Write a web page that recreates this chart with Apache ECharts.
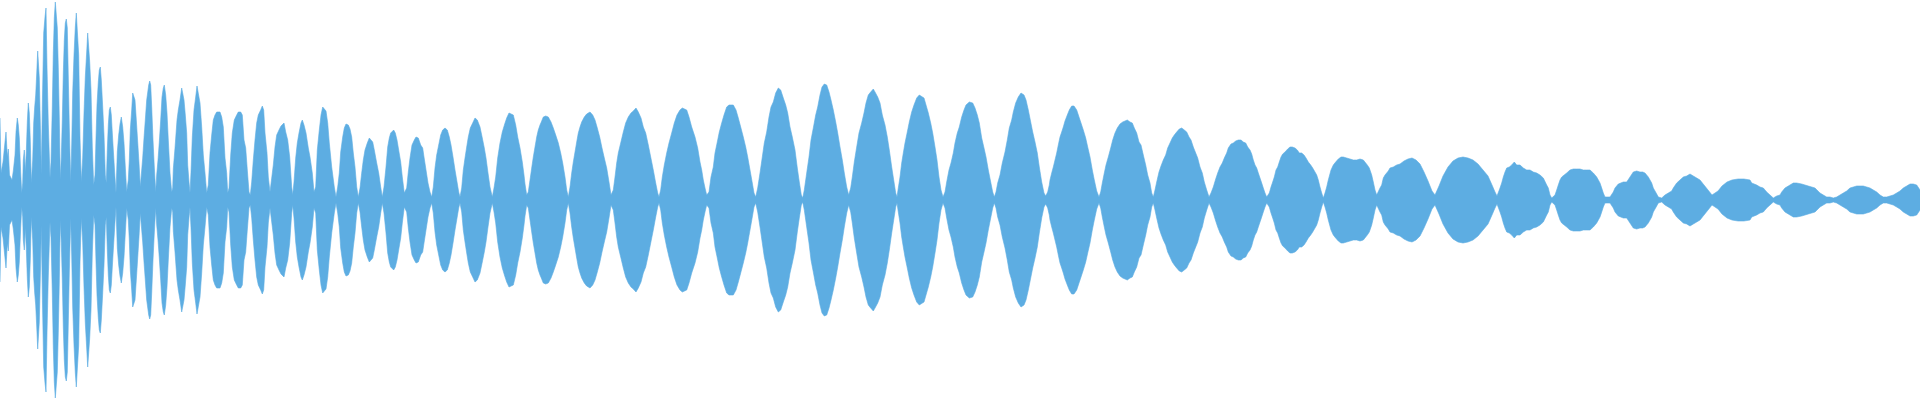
<!DOCTYPE html>
<html>
<head>
<meta charset="utf-8">
<style>html,body{margin:0;padding:0;background:#fff;}#c{width:1920px;height:400px;}</style>
<script src="https://cdn.jsdelivr.net/npm/echarts@6/dist/echarts.min.js"></script>
</head>
<body>
<div id="c"></div>
<script>
// Waveform envelope: [time, amplitude] pairs (amplitude, symmetric about 0)
var attack = [[0,82],[1,27],[3,38],[6,68],[7.3,43],[8.3,51],[9.5,25],[12,20],[13.3,29],[15,45],[16,68],[17.3,82],[18.3,75],[19.3,62],[20.7,27],[21.7,7],[22.7,17],[23.3,40],[24.3,50],[25.3,28],[26.3,48],[27.3,78],[28.3,97],[29.3,87],[30.3,59],[31.3,17],
[32.7,40],[33.7,77],[34.7,93],[35.7,105],[36.7,126],[37.7,149],[39.3,122],[40.7,60],[41.3,25],
[42.3,93],[43.7,167],[45,183],[46,192],[47,133],[48.3,76],[50,22],
[51,38],[52.3,93],[53.3,147],[54.3,182],[55.3,198],[56.3,196],[57.3,172],[58.3,132],[59.3,82],[60.3,20],
[61.3,43],[62.3,80],[63.3,127],[64.3,160],[65.3,177],[66.3,181],[67.3,172],[68.3,123],[69.3,73],[70.7,18],
[71.7,55],[72.7,107],[74,145],[75.3,173],[76.3,187],[77.7,187],[78.7,145],[80,62],[81.3,18],
[82.7,42],[84,87],[85.3,123],[86.7,148],[87.7,167],[88.7,165],[89.7,138],[91,110],[92.3,53],[93.7,15],
[95,25],[96,62],[97,95],[98.3,118],[99.3,130],[100.3,133],[101.3,120],[102.7,93],[104,65],[105.3,25],[106.3,17],
[107.3,50],[108.3,75],[109.3,90],[110.3,93],[111.3,85],[112.3,67],[113.3,50],[114.7,27],[116,7],
[117.3,48],[118.7,65],[120,76],[121.3,83],[122.7,73],[124,57],[125.3,33],[126.7,8],
[128.3,20],[129.3,40],[130.3,70],[131.7,90],[132.7,107],[133.7,105],[135,100],[136.3,80],[137.7,58],[139,37],[140.3,13],
[141.7,15],[142.7,42],[144,62],[145.3,80],[146.7,100],[148.7,115],[149.7,119],[150.7,115],[151.7,93],[153,60],[154.3,33],[155.7,8],
[156.7,25],[158,40],[159.3,58],[160.7,80],[162,103],[163.3,112],[164.3,115],[165.7,105],[167,87],[168.3,60],[170,27],[171.7,8],
[172.7,12],[173.3,31]];

var early = [[175,52],[177,80],[178.3,90],[180,100],[181.7,112],[182.7,113],[184,100],[185.3,85],[186.7,67],[187.7,35],[189,18],[190,7],
[191,28],[192.3,63],[194,90],[195.7,103],[197,114],[198.3,114],[200,97],[201.7,73],[203.3,45],[205,27],[206.7,7],
[208.3,15],[210,47],[211.7,65],[213.3,80],[215,85],[216.7,88],[218.3,87],[220,88],[221.7,83],[223.3,73],[225,42],[226.7,27],[227.7,7],
[229,12],[230.7,45],[232.3,67],[234.3,80],[236.7,85],[238.3,88],[240.7,88],[242.3,85],[244,60],[245.7,52],[247.3,30],[249,8],[250.3,5],
[251.7,18],[253.3,40],[255,60],[256.7,77],[258.3,85],[260.7,90],[262.3,94],[263.7,90],[265,67],[267,47],[268.3,23],[270,8],
[271.7,10],[273.3,35],[275,53],[276.7,65],[279,70],[281,74],[284,77],[285.7,68],[287.7,60],[289.7,43],[291.7,13],[292.7,5],
[294,18],[295.7,42],[297.3,57],[299,67],[301,77],[302.3,80],[304,75],[306,67],[308.3,52],[310,43],[312.3,27],[314,8],
[315.7,13],[317.3,50],[319.3,70],[321,85],[322.7,93],[324.3,95],[326,89],[327.7,77],[329.3,57],[331.7,33],[334.3,13],[336,3],
[337.7,13],[339.3,27],[340.7,48],[342.7,63],[344.3,72],[346,76],[348.3,75],[350,71],
[351.7,63],[353.3,47],[355,33],[356.7,13],[358.3,3],
[360,12],[361.7,27],[363.3,40],[365,50],[367.3,57],[369.3,62],[370.7,63],[372.7,58],[374.3,50],[376.7,37],[378.7,27],[380.7,13],[382.3,3],
[384,13],[386,33],[387.7,53],[389.3,62],[390.7,67],[392.7,68],[393.7,70],[395.3,67],[397,60],[399,48],[400.7,38],[402.3,23],[404.3,7],[405.7,5],
[406.7,12],[408.3,28],[410,42],[412,55],[414.3,60],[416,63],[418.3,62],[420.7,55],[422.7,52],[424,43],[426,30],[428,17],[430,8],[431.7,3],
[433.3,13],[435,32],[436.7,45],[438.7,55],[440.7,65],[442.7,70],[445,72],[447.3,70],[449.3,63],[451,55],[453,43],[455,30],[456.7,20],[458.7,8],[460,3],
[461.7,12],[463.3,30],[465,42],[466.7,53],[468.3,63],[470.3,72],[472.7,77],[475,82],[477.3,80],[480,73],[482.3,62],[484.3,52],[486,42],[488,27],[490,13],[492.3,3],
[494,12],[495.7,23],[497.7,42],[500,57],[502.3,68],[504.7,76],[506.7,82],[509,87],[510.7,88],[513.3,85],[515.7,75],[517.7,63],[520,52],[522.3,38],[524,25],[525,16],[526.7,5]];

var middle = [[528.3,8],[530,20],[531.7,32],[533.3,43],[535,53],[536.7,63],[538.3,70],[540,75],[541.7,79],[543.3,83],[545.7,84],[548.3,83],[551,78],[553.3,72],[555.7,65],[558.3,57],[560.7,47],[562.7,37],[565,23],[566.7,10],[568.3,3],
[570,13],[571.7,27],[573.3,38],[575,48],[576.7,58],[578.3,67],[580,73],[581.7,78],[584.3,83],[586.7,86],[590,88],[592.7,85],[595,80],[597.3,72],[599.7,63],[602,52],[604.3,42],[606.7,32],[609,18],[611,5],
[613.3,10],[615,23],[616.7,37],[618.3,47],[620.7,57],[623.3,68],[625.7,77],[628.3,83],[631,87],[633.3,89],[636,92],[638.3,88],[641,82],[643.3,73],[645.7,67],[648.3,55],[650.7,43],[653.3,30],[655.7,17],[657.7,7],[659,3],
[660.7,10],[662.3,23],[664.3,35],[666.7,47],[669,57],[671.7,67],[674.3,77],[677,85],[680,90],[682.3,92],[684,93],[686.7,90],[689,83],[691.7,73],[695,63],[697.7,52],[700,38],[701.7,30],[703.3,20],[705,12],[706.7,5],
[709,8],[711,23],[713.3,33],[715,47],[717.3,58],[719.3,68],[721.7,77],[724,85],[726.7,93],[729,95],[731,97],[733.3,95],[736,90],[738.3,82],[740.7,73],[743.3,63],[745.7,53],[747.7,43],[750,30],[752.3,17],[754,7],[755.7,3],
[757.7,12],[760,27],[762.3,43],[764.3,57],[766.7,68],[769,83],[771,93],[773.3,98],[775.7,107],[778.3,112],[780.7,110],[783.3,102],[785.7,95],[787.7,87],[790,73],[792.3,63],[795,50],[797.3,32],[799.3,18],[801.3,5],[802.7,2],
[804.3,10],[806.7,27],[809,43],[811,60],[813.3,72],[815.7,85],[817.7,93],[820,105],[822,113],[824.3,116],[826.7,115],[829,108],[831,100],[833.3,90],[835.7,78],[837.7,67],[840,53],[842.3,40],[844.3,27],[846.7,13],[848.7,5],
[850.7,12],[852.3,23],[854.3,38],[856.7,53],[859,67],[861.7,77],[864,87],[866,97],[868.3,105],[870.7,108],[873.3,111],[875,108],[877.7,103],[880,97],[882.3,85],[885,75],[887.3,63],[889.3,50],[891.7,33],[893.7,20],[895.7,7],[897,3],
[898.3,12],[900,23],[901.7,37],[903.3,47],[905,57],[907.3,68],[909.3,78],[911.7,88],[914,95],[916.7,102],[919.3,105],[921.3,106],[924,102],[926,95],[928.3,87],[930.7,77],[932.7,67],[935,53],[937,40],[939,23],[941,10],[943,3],
[945,8],[946.7,18],[949,30],[951,37],[953.3,47],[955,57],[957.3,67],[959.3,73],[961.7,83],[964,90],[966,95],[969.3,98],[972.7,97],[975,92],[977.3,85],[979.3,77],[981.7,62],[984,52],[986,43],[988.3,30],[990.7,18],[992.7,8],[994.3,3],
[996,8],[997.7,17],[1000,25],[1002.3,37],[1005,48],[1007.3,60],[1009.3,72],[1011.7,80],[1013.3,88],[1015.7,97],[1018.3,103],[1021,107],[1024,105],[1026,100],[1028.3,90],[1030.7,78],[1032.7,68],[1035,58],[1037.3,47],[1039.3,33],[1041.7,18],[1044,7],[1045.7,4]];

var decay = [[1047.7,8],[1049.3,15],[1050,20],[1051.7,27],[1053.3,33],[1055,40],[1056.7,47],[1058.3,55],[1060,63],[1061.7,68],[1063.3,73],[1065,79],[1067.3,85],[1069.3,90],[1071.7,94],[1074,94],[1076.7,90],[1079,83],[1081,77],[1083.3,70],[1085.7,62],[1087.7,53],[1090,43],[1092.3,30],[1094.3,20],[1096.7,9],[1099,3],
[1100.7,8],[1102.3,17],[1104.3,27],[1106,35],[1108.3,43],[1110.7,52],[1112.7,60],[1115,67],[1117.3,72],[1120,76],[1122.7,78],[1125,79],[1127.3,80],[1130,78],[1132.3,77],[1134.3,72],[1136.7,67],[1139,58],[1141,55],[1143.3,45],[1145.7,35],[1147.7,25],[1150,17],[1151.7,7],[1153.3,3],
[1155,10],[1156.7,18],[1159,28],[1161,34],[1163.3,40],[1165.7,45],[1167.7,52],[1170,57],[1172.3,62],[1174.3,65],[1176.7,68],[1179.3,71],[1181.7,72],[1184.3,70],[1186.7,68],[1189,63],[1191,60],[1193.3,53],[1195.7,47],[1197.7,42],[1200,33],[1202.3,27],[1204.3,18],[1206.7,10],[1209,3],
[1211,7],[1213.3,13],[1215.7,21],[1217.7,27],[1220,33],[1222.3,37],[1224.3,42],[1225,43],[1226.7,47],[1228.3,52],[1231,56],[1233.3,57],[1235.7,59],[1238.3,60],[1241,60],[1243.3,58],[1245.7,57],[1247.7,53],[1250,50],[1251.7,46],[1253.3,40],[1255,35],[1256.7,32],[1258.3,27],[1260,22],[1261.7,17],[1263.3,12],[1265,7],[1266.7,3],[1267.7,2],
[1269.3,7],[1271,13],[1272.7,18],[1274.3,23],[1276,30],[1277.7,33],[1279.3,38],[1281,43],[1282.7,46],[1285,48],[1287.7,51],[1290,53],[1292.3,53],[1295,52],[1297.3,50],[1299.3,47],[1301.7,47],[1304,45],[1306,42],[1308.3,38],[1310.7,35],[1312.7,32],[1315,28],[1316.7,25],[1318.3,20],[1320,13],[1321.7,7],[1323.3,2],
[1325,7],[1326.7,13],[1328.3,20],[1331,30],[1333.3,35],[1335.7,38],[1338.3,41],[1341,43],[1343.3,43],[1346.7,42],[1350,41],[1353.3,40],[1356.7,40],[1360,41],[1363.3,40],[1365,38],[1367.3,35],[1369.3,32],[1371.7,25],[1373.3,18],[1375,10],[1376.7,5],[1378.3,4],
[1380,12],[1381.7,15],[1383.3,22],[1385,25],[1386.7,27],[1388.3,29],[1390,32],[1391.7,32],[1393.3,33],[1395,34],[1396.7,35],[1398.3,35],[1400,36],
[1404,39],[1408,41],[1412,42],[1416,40],[1420,36],[1424,28],[1428,19],[1432,9],[1435,5],[1439,14],[1443,24],[1448,33],[1453,39],[1458,42],[1463,43],[1468,42],[1473,40],[1478,36],[1483,30],[1488,24],[1492,15],[1495,8],[1497,4]];

var tail = [[1500,12],[1501.7,17],[1503.3,23],[1505,28],[1506.7,32],[1509.3,33],[1511.7,35],[1514.3,38],[1516.7,35],[1520,35],[1523.3,32],[1526.7,30],[1530,30],[1533.3,28],[1536.7,27],[1540,25],[1543.3,22],[1545,20],[1546.7,15],[1548.3,12],[1550,5],[1551.7,2],[1553.3,3],
[1555,5],[1556.7,10],[1558.3,15],[1560,20],[1561.7,23],[1563.3,25],[1566.7,27],[1570,30],[1573.3,31],[1576.7,31],[1580,31],[1583.3,30],[1586.7,30],[1590,30],[1593.3,27],[1596.7,23],[1598.3,21],[1600,17],[1601.7,12],[1603.3,7],[1605,3],[1606.7,3],[1610,3],
[1611.7,5],[1613.3,8],[1615,12],[1616.7,13],[1618.3,16],[1620,17],[1623.3,18],[1626.7,18],[1628.3,20],[1630,23],[1633.3,28],[1636.7,29],[1640,28],[1642.7,28],[1645,27],[1648.3,23],[1650,20],[1651.7,17],[1653.3,12],[1655,9],[1656.7,6],[1658.3,3],[1660,2],
[1661.7,2],[1663.3,4],[1665,5],[1666.7,5],[1668.3,7],[1670,8],[1671.7,9],[1673.3,12],[1675,14],[1676.7,17],[1678.3,18],[1680,20],[1683.3,23],[1686.7,24],[1690,26],[1693.3,24],[1696.7,22],[1700,20],
[1704,15],[1708,10],[1712,5],[1714,3],[1718,9],[1722,14],[1727,18],[1732,20],[1738,21],[1744,21],
[1750,20],[1751.7,17],[1753.3,17],[1756.7,15],[1760,13],[1763.3,12],[1766.7,8],[1768.3,7],[1770,5],[1771.7,3],[1773.3,2],[1775,3],[1776.7,4],[1778.3,3],[1780,5],[1781.7,8],[1783.3,10],[1785,12],[1786.7,13],[1788.3,14],[1790,16],[1793.3,17],[1796.7,17],[1798.3,18],[1801.7,16],[1805,15],[1808.3,14],[1811.7,13],[1815,12],[1816.7,10],[1820,7],[1823.3,5],[1826.7,3],[1830,3],[1833.3,2],[1836.7,3],[1840,5],[1843.3,7],[1846.7,9],[1850,12],[1853.3,13],[1856.7,14],[1860,14],[1863.3,14],[1866.7,13],[1870,12],[1873.3,10],[1876.7,8],[1880,5],[1883.3,3],[1885,2],[1886.7,3],[1890,4],[1893.3,5],[1896.7,7],[1900,9],[1903.3,12],[1906.7,14],[1910,16],[1913.3,16],[1916.7,15],[1918.3,13],[1920,10]];

var COLOR = '#5dade2';
var envelope = attack.concat(early, middle, decay, tail);
var upper = envelope.map(function (p) { return [p[0], p[1]]; });
var lower = envelope.map(function (p) { return [p[0], -p[1]]; });

var chart = echarts.init(document.getElementById('c'), null, {renderer: 'canvas'});
function wave(name, data) {
  return {
    name: name, type: 'line', data: data, symbol: 'none', silent: true,
    lineStyle: {width: 0.6, color: COLOR}, areaStyle: {color: COLOR, opacity: 1, origin: 0},
    itemStyle: {color: COLOR}, animation: false
  };
}
chart.setOption({
  animation: false,
  backgroundColor: '#ffffff',
  grid: {left: 0, right: 0, top: 0, bottom: 0},
  xAxis: {type: 'value', min: 0, max: 1920, show: false},
  yAxis: {type: 'value', min: -200, max: 200, show: false},
  series: [wave('upper', upper), wave('lower', lower)]
});
</script>
</body>
</html>
